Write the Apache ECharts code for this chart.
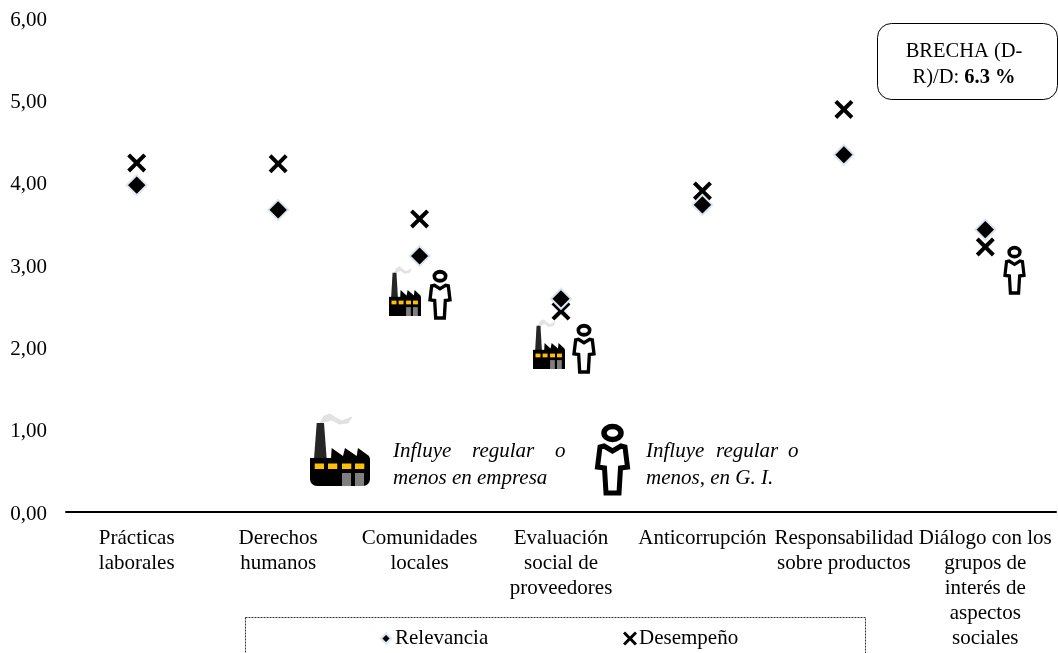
<!DOCTYPE html>
<html>
<head>
<meta charset="utf-8">
<title>Brecha</title>
<script src="https://cdn.jsdelivr.net/npm/echarts@6/dist/echarts.min.js"></script>
<style>
  html, body { margin: 0; padding: 0; background: #fff; overflow: hidden; }
  #main { width: 1058px; height: 653px; }
</style>
</head>
<body>
<div id="main"></div>
<script>
var categories = [
  "Prácticas\nlaborales",
  "Derechos\nhumanos",
  "Comunidades\nlocales",
  "Evaluación\nsocial de\nproveedores",
  "Anticorrupción",
  "Responsabilidad\nsobre productos",
  "Diálogo con los\ngrupos de\ninterés de\naspectos\nsociales"
];
var relevancia = [3.97, 3.67, 3.11, 2.59, 3.73, 4.34, 3.43];
var desempeno = [4.24, 4.23, 3.56, 2.44, 3.9, 4.89, 3.22];
var yTicks = { min: 0, max: 6, interval: 1 };

var FONT = '"Liberation Serif", "Times New Roman", serif';
var FS = 21;
var X_PATH = "path://M3,0 L10,7 L17,0 L20,3 L13,10 L20,17 L17,20 L10,13 L3,20 L0,17 L7,10 L0,3 Z";

// factory icon, drawn in a 60x73 box
function factoryIcon(x, y, w, h, rounded) {
  var kids = [
    { type: "polygon", shape: { points: [[10, 10], [14, 3], [20, 1], [26, 5], [32, 8], [42, 4], [38, 10], [29, 11], [22, 7]] },
      style: { fill: "#e3e3e3", stroke: "#cfcfcf", lineWidth: 0.5 } },
    { type: "polygon", shape: { points: [[6.7, 10], [14, 10], [16.7, 46], [4, 46]] }, style: { fill: "#262626" } },
    { type: "polygon", shape: { points: [[21.7, 35], [33, 43], [35, 35], [46.7, 43], [48, 35], [59, 43], [60, 46], [21, 46]] }, style: { fill: "#000" } },
    { type: "rect", shape: { x: 0, y: 45, width: 60, height: 28, r: rounded ? [0, 0, 7, 7] : 0 }, style: { fill: "#000" } }
  ];
  [4.7, 18, 32, 45].forEach(function (wx) {
    kids.push({ type: "rect", shape: { x: wx, y: 50.5, width: 9.3, height: 5.5 }, style: { fill: "#ffc000" } });
  });
  [32, 45].forEach(function (dx) {
    kids.push({ type: "rect", shape: { x: dx, y: 60, width: 9, height: 13 }, style: { fill: "#7f7f7f" } });
  });
  return { type: "group", x: x, y: y, scaleX: w / 60, scaleY: h / 73, children: kids };
}

// person icon, drawn in a 33x72 box
function personIcon(x, y, w, h) {
  return {
    type: "group", x: x, y: y, scaleX: w / 33, scaleY: h / 72,
    children: [
      { type: "ellipse", shape: { cx: 16.5, cy: 9, rx: 8.5, ry: 6.5 }, style: { fill: "#fff", stroke: "#000", lineWidth: 5.5 } },
      { type: "polygon", shape: { points: [[8, 22], [16.5, 27], [25, 22], [29, 23], [31.5, 43], [24.5, 44], [23, 69], [10, 69], [8.5, 44], [1.5, 43], [4, 23]] },
        style: { fill: "#fff", stroke: "#000", lineWidth: 5, lineJoin: "miter" } }
    ]
  };
}

function note(x, y, text) {
  return { type: "text", x: x, y: y, style: { text: text, font: "italic " + FS + "px " + FONT, fill: "#000", textVerticalAlign: "middle" } };
}

var chart = echarts.init(document.getElementById("main"), null, { renderer: "canvas" });

var option = {
  animation: false,
  backgroundColor: "#fff",
  grid: { left: 66, right: 2, top: 18, bottom: 141 },
  legend: [
    { data: [{ name: "Relevancia", icon: "diamond" }], left: 375, top: 623, itemWidth: 10, itemHeight: 10, itemGap: 0,
      textStyle: { fontFamily: FONT, fontSize: FS, color: "#000", padding: [0, 0, 0, -1] } },
    { data: [{ name: "Desempeño", icon: X_PATH }], left: 618, top: 623, itemWidth: 14, itemHeight: 14, itemGap: 0,
      textStyle: { fontFamily: FONT, fontSize: FS, color: "#000", padding: [0, 0, 0, -3] } }
  ],
  xAxis: {
    type: "category",
    data: categories,
    axisLine: { lineStyle: { color: "#000", width: 2 } },
    axisTick: { show: false },
    axisLabel: { interval: 0, margin: 14, fontFamily: FONT, fontSize: FS, lineHeight: 25, color: "#000" }
  },
  yAxis: {
    type: "value",
    min: yTicks.min,
    max: yTicks.max,
    interval: yTicks.interval,
    splitLine: { show: false },
    axisLine: { show: false },
    axisTick: { show: false },
    axisLabel: {
      margin: 19,
      fontFamily: FONT,
      fontSize: FS,
      verticalAlign: "top",
      lineHeight: 4,
      color: "#000",
      formatter: function (v) { return v.toFixed(2).replace(".", ","); }
    }
  },
  series: [
    {
      name: "Desempeño",
      type: "scatter",
      data: desempeno,
      z: 2,
      symbol: X_PATH,
      symbolSize: 19,
      itemStyle: { color: "#000", opacity: 1 }
    },
    {
      name: "Relevancia",
      type: "scatter",
      data: relevancia,
      z: 3,
      symbol: "diamond",
      symbolSize: 20,
      itemStyle: { color: "#000", borderColor: "#dce6f2", borderWidth: 2, opacity: 1 }
    }
  ],
  graphic: [
    factoryIcon(310, 413, 60, 73, true),
    personIcon(596, 424, 33, 72),
    note(393, 451, "Influye"),
    note(472, 451, "regular"),
    note(555, 451, "o"),
    note(393, 478, "menos en empresa"),
    note(646, 451, "Influye"),
    note(716, 451, "regular"),
    note(788, 451, "o"),
    note(646, 478, "menos, en G. I."),
    factoryIcon(389, 266, 32, 50, false),
    personIcon(429, 270, 22, 50),
    factoryIcon(533, 319, 32, 50, false),
    personIcon(573, 324, 22, 50),
    personIcon(1004, 246, 21, 49),
    {
      type: "rect",
      shape: { x: 877.5, y: 23.5, width: 180, height: 76, r: 14 },
      style: { fill: "#fff", stroke: "#000", lineWidth: 1 }
    },
    {
      type: "text", x: 964, y: 52,
      style: { text: "BRECHA (D-", font: "20.5px " + FONT, fill: "#000", textAlign: "center", textVerticalAlign: "middle" }
    },
    {
      type: "text", x: 964, y: 78,
      style: {
        text: "R)/D: {b|6.3 %}",
        font: "20.5px " + FONT,
        fill: "#000",
        textAlign: "center",
        textVerticalAlign: "middle",
        rich: { b: { fontFamily: FONT, fontSize: 20.5, fontWeight: "bold", fill: "#000" } }
      }
    },
    {
      type: "rect",
      shape: { x: 245.5, y: 617.5, width: 620, height: 50 },
      style: { fill: "none", stroke: "#333", lineWidth: 1, lineDash: [2, 1] }
    }
  ]
};
chart.setOption(option);
</script>
</body>
</html>
